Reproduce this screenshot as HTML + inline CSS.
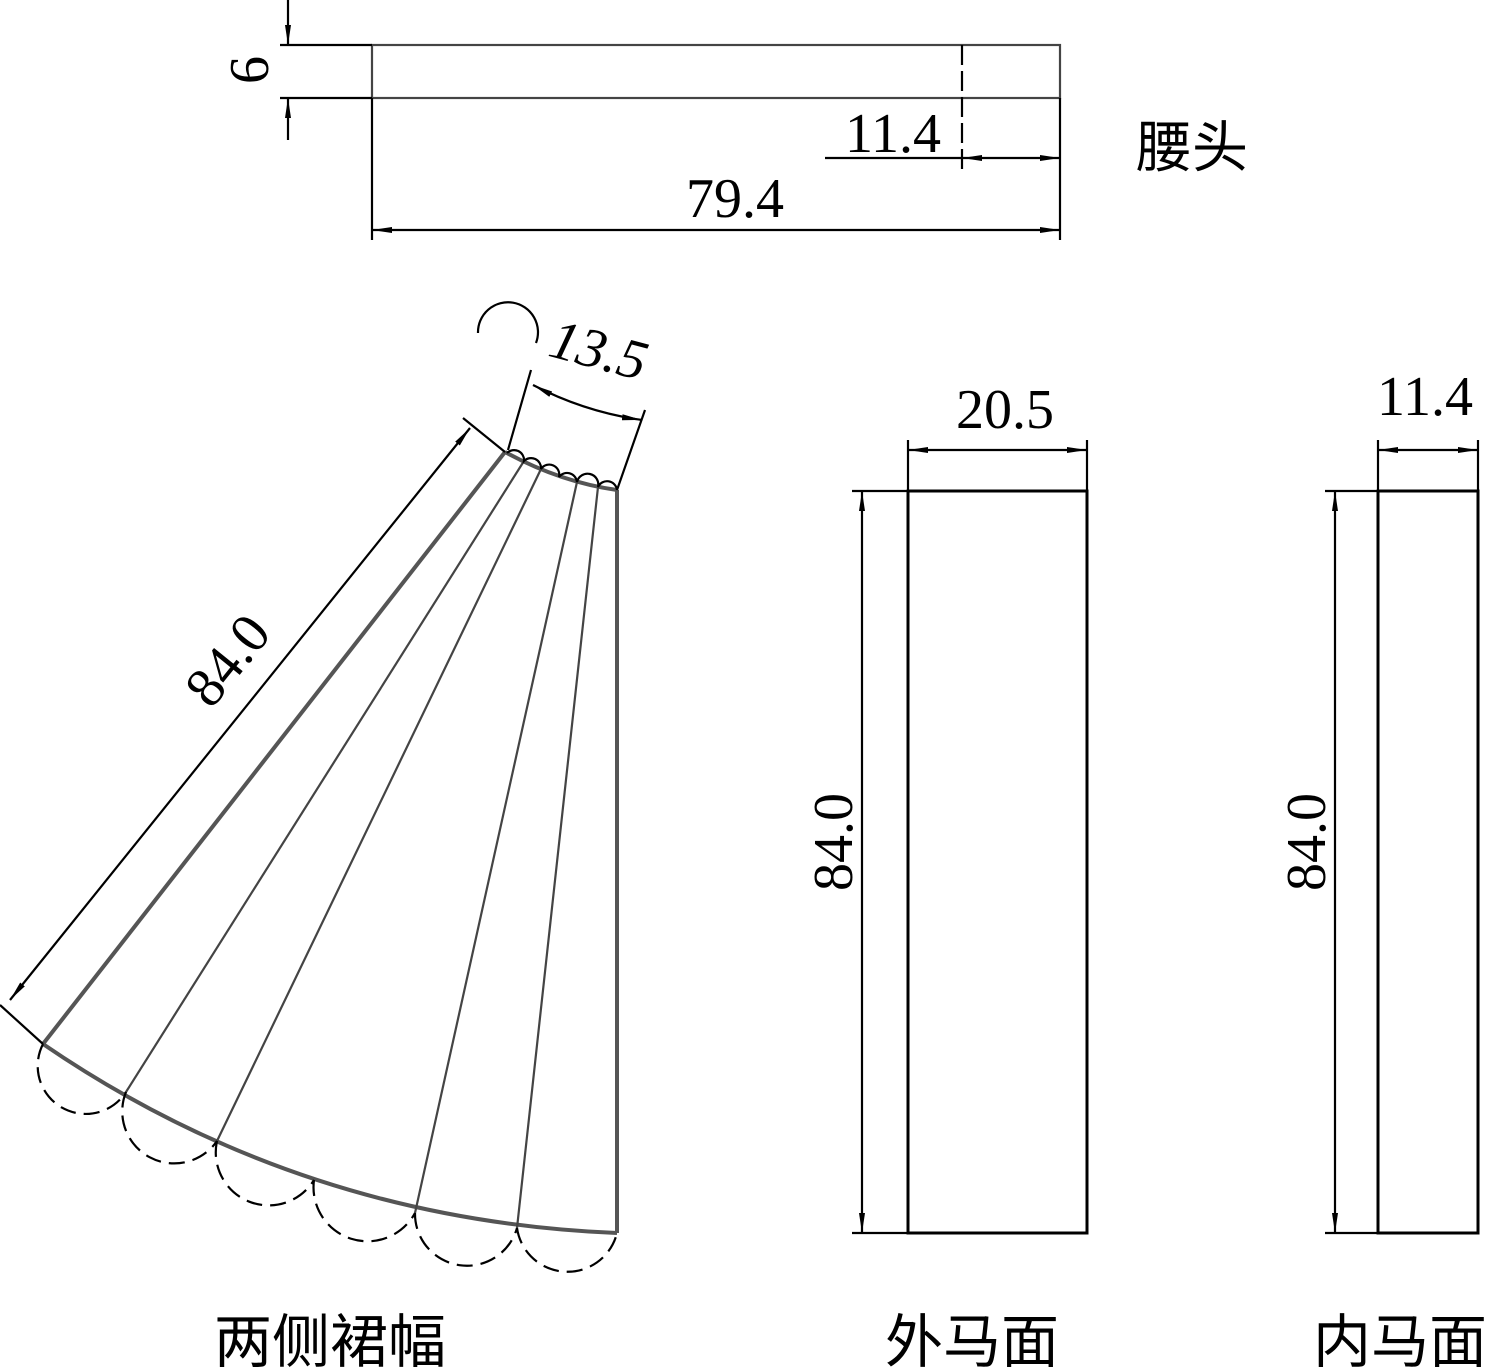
<!DOCTYPE html>
<html><head><meta charset="utf-8"><style>
html,body{margin:0;padding:0;background:#fff;}
svg{display:block;}
text{font-family:"Liberation Serif","Noto Serif CJK SC",serif;fill:#000;}
.cjk{font-family:"Noto Sans CJK SC","WenQuanYi Zen Hei",sans-serif;}
</style></head><body>
<svg width="1512" height="1367" viewBox="0 0 1512 1367" xmlns="http://www.w3.org/2000/svg">
<defs>
<marker id="a" viewBox="0 0 20 8" refX="20" refY="4" markerWidth="20" markerHeight="8" markerUnits="userSpaceOnUse" orient="auto-start-reverse"><path d="M0,1 L20,4 L0,7 Z" fill="#000"/></marker>
</defs>
<g stroke="#000" stroke-width="2.2" fill="none">
<rect x="372" y="45" width="688" height="53" stroke="#444"/>
<line x1="280" y1="45" x2="372" y2="45"/>
<line x1="280" y1="98" x2="372" y2="98"/>
<line x1="288" y1="0" x2="288" y2="45" marker-end="url(#a)"/>
<line x1="288" y1="140" x2="288" y2="98" marker-end="url(#a)"/>
<line x1="962" y1="45" x2="962" y2="170" stroke-dasharray="20,6"/>
<line x1="372" y1="98" x2="372" y2="240"/>
<line x1="1060" y1="98" x2="1060" y2="240"/>
<line x1="825" y1="158" x2="962" y2="158"/>
<line x1="962" y1="158" x2="1060" y2="158" marker-start="url(#a)" marker-end="url(#a)"/>
<line x1="372" y1="230" x2="1060" y2="230" marker-start="url(#a)" marker-end="url(#a)"/>
<rect x="908" y="491" width="179" height="742" stroke-width="3"/>
<line x1="908" y1="440" x2="908" y2="491"/>
<line x1="1087" y1="440" x2="1087" y2="491"/>
<line x1="908" y1="450" x2="1087" y2="450" marker-start="url(#a)" marker-end="url(#a)"/>
<line x1="852" y1="491" x2="908" y2="491"/>
<line x1="852" y1="1233" x2="908" y2="1233"/>
<line x1="862" y1="491" x2="862" y2="1233" marker-start="url(#a)" marker-end="url(#a)"/>
<rect x="1378" y="491" width="100" height="742" stroke-width="3"/>
<line x1="1378" y1="440" x2="1378" y2="491"/>
<line x1="1478" y1="440" x2="1478" y2="491"/>
<line x1="1378" y1="450" x2="1478" y2="450" marker-start="url(#a)" marker-end="url(#a)"/>
<line x1="1325" y1="491" x2="1378" y2="491"/>
<line x1="1325" y1="1233" x2="1378" y2="1233"/>
<line x1="1335" y1="491" x2="1335" y2="1233" marker-start="url(#a)" marker-end="url(#a)"/>
<path d="M505,452 Q560,482 617,490" stroke="#555" stroke-width="4"/>
<path d="M43,1044 Q300,1220 617,1233" stroke="#555" stroke-width="4"/>
<line x1="505" y1="452" x2="43" y2="1044" stroke="#555" stroke-width="4"/>
<line x1="617" y1="490" x2="617" y2="1233" stroke="#555" stroke-width="4"/>
<line x1="524" y1="461" x2="126" y2="1092" stroke="#444"/>
<line x1="541" y1="469" x2="217" y2="1141" stroke="#444"/>
<line x1="577" y1="482" x2="415" y2="1213" stroke="#444"/>
<line x1="598" y1="487" x2="517" y2="1228" stroke="#444"/>
<path d="M507,453 A10,10 0 0 1 524,461 A10,10 0 0 1 541,469 A10,10 0 0 1 559,477 A10,10 0 0 1 577,482 A10,10 0 0 1 598,487 A10,10 0 0 1 617,490"/>
<g stroke-dasharray="16,8">
<path d="M43,1044 A48,48 0 0 0 126,1092"/>
<path d="M126,1092 A52,52 0 0 0 217,1141"/>
<path d="M217,1141 A53,53 0 0 0 314,1180"/>
<path d="M314,1180 A54,54 0 0 0 415,1213"/>
<path d="M415,1213 A52,52 0 0 0 517,1228"/>
<path d="M517,1228 A51,51 0 0 0 617,1233"/>
</g>
<path d="M478,333 A30,30 0 1 1 536,343"/>
<line x1="505" y1="452" x2="463" y2="418"/>
<line x1="43" y1="1044" x2="0" y2="1005"/>
<line x1="470" y1="428" x2="10" y2="1000" marker-start="url(#a)" marker-end="url(#a)"/>
<line x1="508" y1="450" x2="531" y2="370"/>
<line x1="617" y1="490" x2="645" y2="410"/>
<path d="M533,385 Q585,412 642,420" marker-start="url(#a)" marker-end="url(#a)"/>
</g>
<g font-size="56">
<text x="0" y="0" text-anchor="middle" transform="translate(268,70) rotate(-90)">6</text>
<text x="893" y="152" text-anchor="middle">11.4</text>
<text x="735" y="217" text-anchor="middle">79.4</text>
<text x="1005" y="428" text-anchor="middle">20.5</text>
<text x="1425" y="415" text-anchor="middle">11.4</text>
<text x="0" y="0" text-anchor="middle" transform="translate(852,842) rotate(-90)">84.0</text>
<text x="0" y="0" text-anchor="middle" transform="translate(1325,842) rotate(-90)">84.0</text>
<text x="0" y="0" text-anchor="middle" transform="translate(242,672) rotate(-51)">84.0</text>
<text x="0" y="0" text-anchor="middle" font-style="italic" transform="translate(594,368) rotate(15)">13.5</text>
</g>
<text class="cjk" x="1192" y="167" text-anchor="middle" font-size="56">腰头</text>
<text class="cjk" x="330" y="1362" text-anchor="middle" font-size="58">两侧裙幅</text>
<text class="cjk" x="972" y="1362" text-anchor="middle" font-size="58">外马面</text>
<text class="cjk" x="1400" y="1362" text-anchor="middle" font-size="58">内马面</text>
</svg>
</body></html>
